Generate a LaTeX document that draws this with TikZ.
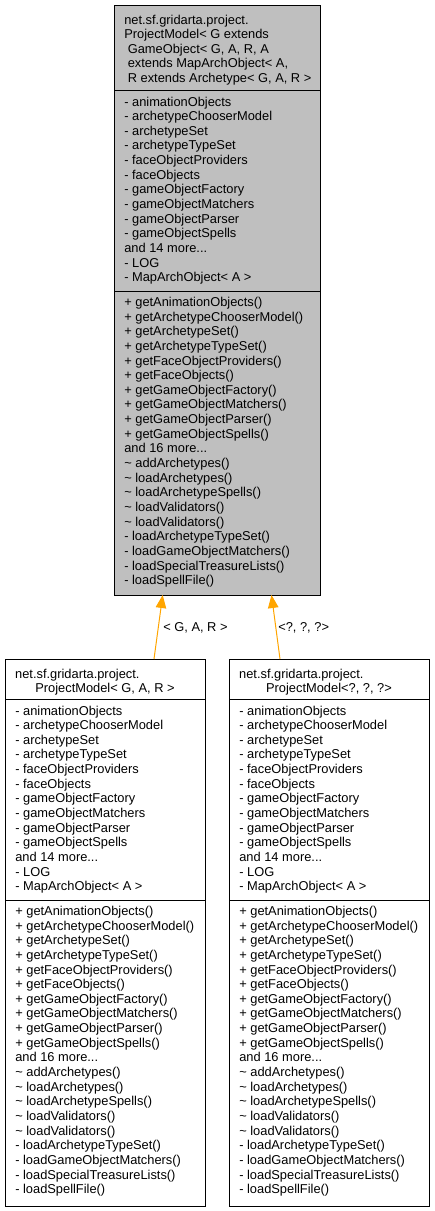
\documentclass[tikz,border=0pt]{standalone}
\usepackage{fontspec}
\setmainfont{Liberation Sans}
\usetikzlibrary{arrows.meta,calc}
\definecolor{grey75}{HTML}{BFBFBF}
\definecolor{edgeorange}{HTML}{FFA500}
\newcommand\umlattrlines{\rule{0pt}{10pt}- animationObjects\\- archetypeChooserModel\\- archetypeSet\\- archetypeTypeSet\\- faceObjectProviders\\- faceObjects\\- gameObjectFactory\\- gameObjectMatchers\\- gameObjectParser\\- gameObjectSpells\\and 14 more...\\- LOG\\- MapArchObject< A >}
\newcommand\umlmethlines{\rule{0pt}{10pt}+ getAnimationObjects()\\+ getArchetypeChooserModel()\\+ getArchetypeSet()\\+ getArchetypeTypeSet()\\+ getFaceObjectProviders()\\+ getFaceObjects()\\+ getGameObjectFactory()\\+ getGameObjectMatchers()\\+ getGameObjectParser()\\+ getGameObjectSpells()\\and 16 more...\\\textasciitilde{} addArchetypes()\\\textasciitilde{} loadArchetypes()\\\textasciitilde{} loadArchetypeSpells()\\\textasciitilde{} loadValidators()\\\textasciitilde{} loadValidators()\\- loadArchetypeTypeSet()\\- loadGameObjectMatchers()\\- loadSpecialTreasureLists()\\- loadSpellFile()}
\begin{document}
\begin{tikzpicture}[x=1pt,y=-1pt,
  umlbox/.style={draw=black, line width=1pt, rectangle, inner sep=0pt, outer sep=0pt},
  umlline/.style={draw=black, line width=1pt},
  sect/.style={anchor=north west, inner sep=0pt, outer sep=0pt, align=left, font=\fontsize{12.85}{14.64}\selectfont},
  centline/.style={anchor=base, inner sep=0pt, outer sep=0pt, font=\fontsize{12.85}{14.64}\selectfont},
  edgelabel/.style={anchor=base west, inner sep=0pt, outer sep=0pt, font=\fontsize{12.85}{14.64}\selectfont},
  inh/.style={draw=edgeorange, line width=1pt, -{Triangle[length=13pt,width=10.5pt,fill=edgeorange]}}]
\useasboundingbox (0,0) rectangle (435,1211);
% top class
\node[umlbox, fill=grey75, minimum width=206pt, minimum height=590pt] (top) at (217,300) {};
\draw[umlline] ($(top.north west)+(0,85)$) -- ($(top.north east)+(0,85)$);
\draw[umlline] ($(top.north west)+(0,286)$) -- ($(top.north east)+(0,286)$);
\node[sect] (topHead) at (124.3,14) {\rule{0pt}{10pt}net.sf.gridarta.project.\\ProjectModel< G extends\\\hspace*{3.5pt}GameObject< G, A, R, A\\\hspace*{3.5pt}extends MapArchObject< A,\\\hspace*{3.5pt}R extends Archetype< G, A, R >};
\node[sect] (topAttr) at (124.3,96) {\umlattrlines};
\node[sect] (topMeth) at (124.3,296.5) {\umlmethlines};
% bottom left class
\node[umlbox, fill=white, minimum width=200pt, minimum height=547pt] (lbox) at (105,932.5) {};
\draw[umlline] ($(lbox.north west)+(0,40)$) -- ($(lbox.north east)+(0,40)$);
\draw[umlline] ($(lbox.north west)+(0,241)$) -- ($(lbox.north east)+(0,241)$);
\node[sect] (lHeadA) at (15.2,668.3) {\rule{0pt}{10pt}net.sf.gridarta.project.};
\node[centline] (lHeadB) at (105,692.9) {ProjectModel< G, A, R >};
\node[sect] (lAttr) at (15.3,705) {\umlattrlines};
\node[sect] (lMeth) at (15.3,905.5) {\umlmethlines};
% bottom right class
\node[umlbox, fill=white, minimum width=200pt, minimum height=547pt] (rbox) at (329,932.5) {};
\draw[umlline] ($(rbox.north west)+(0,40)$) -- ($(rbox.north east)+(0,40)$);
\draw[umlline] ($(rbox.north west)+(0,241)$) -- ($(rbox.north east)+(0,241)$);
\node[sect] (rHeadA) at (239.2,668.3) {\rule{0pt}{10pt}net.sf.gridarta.project.};
\node[centline] (rHeadB) at (329,692.9) {ProjectModel<?, ?, ?>};
\node[sect] (rAttr) at (239.3,705) {\umlattrlines};
\node[sect] (rMeth) at (239.3,905.5) {\umlmethlines};
% connectors
\coordinate (lTail) at ($(lbox.north west)+(149,0)$);
\coordinate (lHead) at ($(top.south west)+(48.7,0)$);
\coordinate (rTail) at ($(rbox.north west)+(51,0)$);
\coordinate (rHead) at ($(top.south west)+(157.5,0)$);
\draw[inh] (lTail) -- (lHead);
\draw[inh] (rTail) -- (rHead);
\node[edgelabel] (lLab) at (163.3,631.5) {< G, A, R >};
\node[edgelabel] (rLab) at (278.3,631.5) {<?, ?, ?>};
\end{tikzpicture}
\end{document}
